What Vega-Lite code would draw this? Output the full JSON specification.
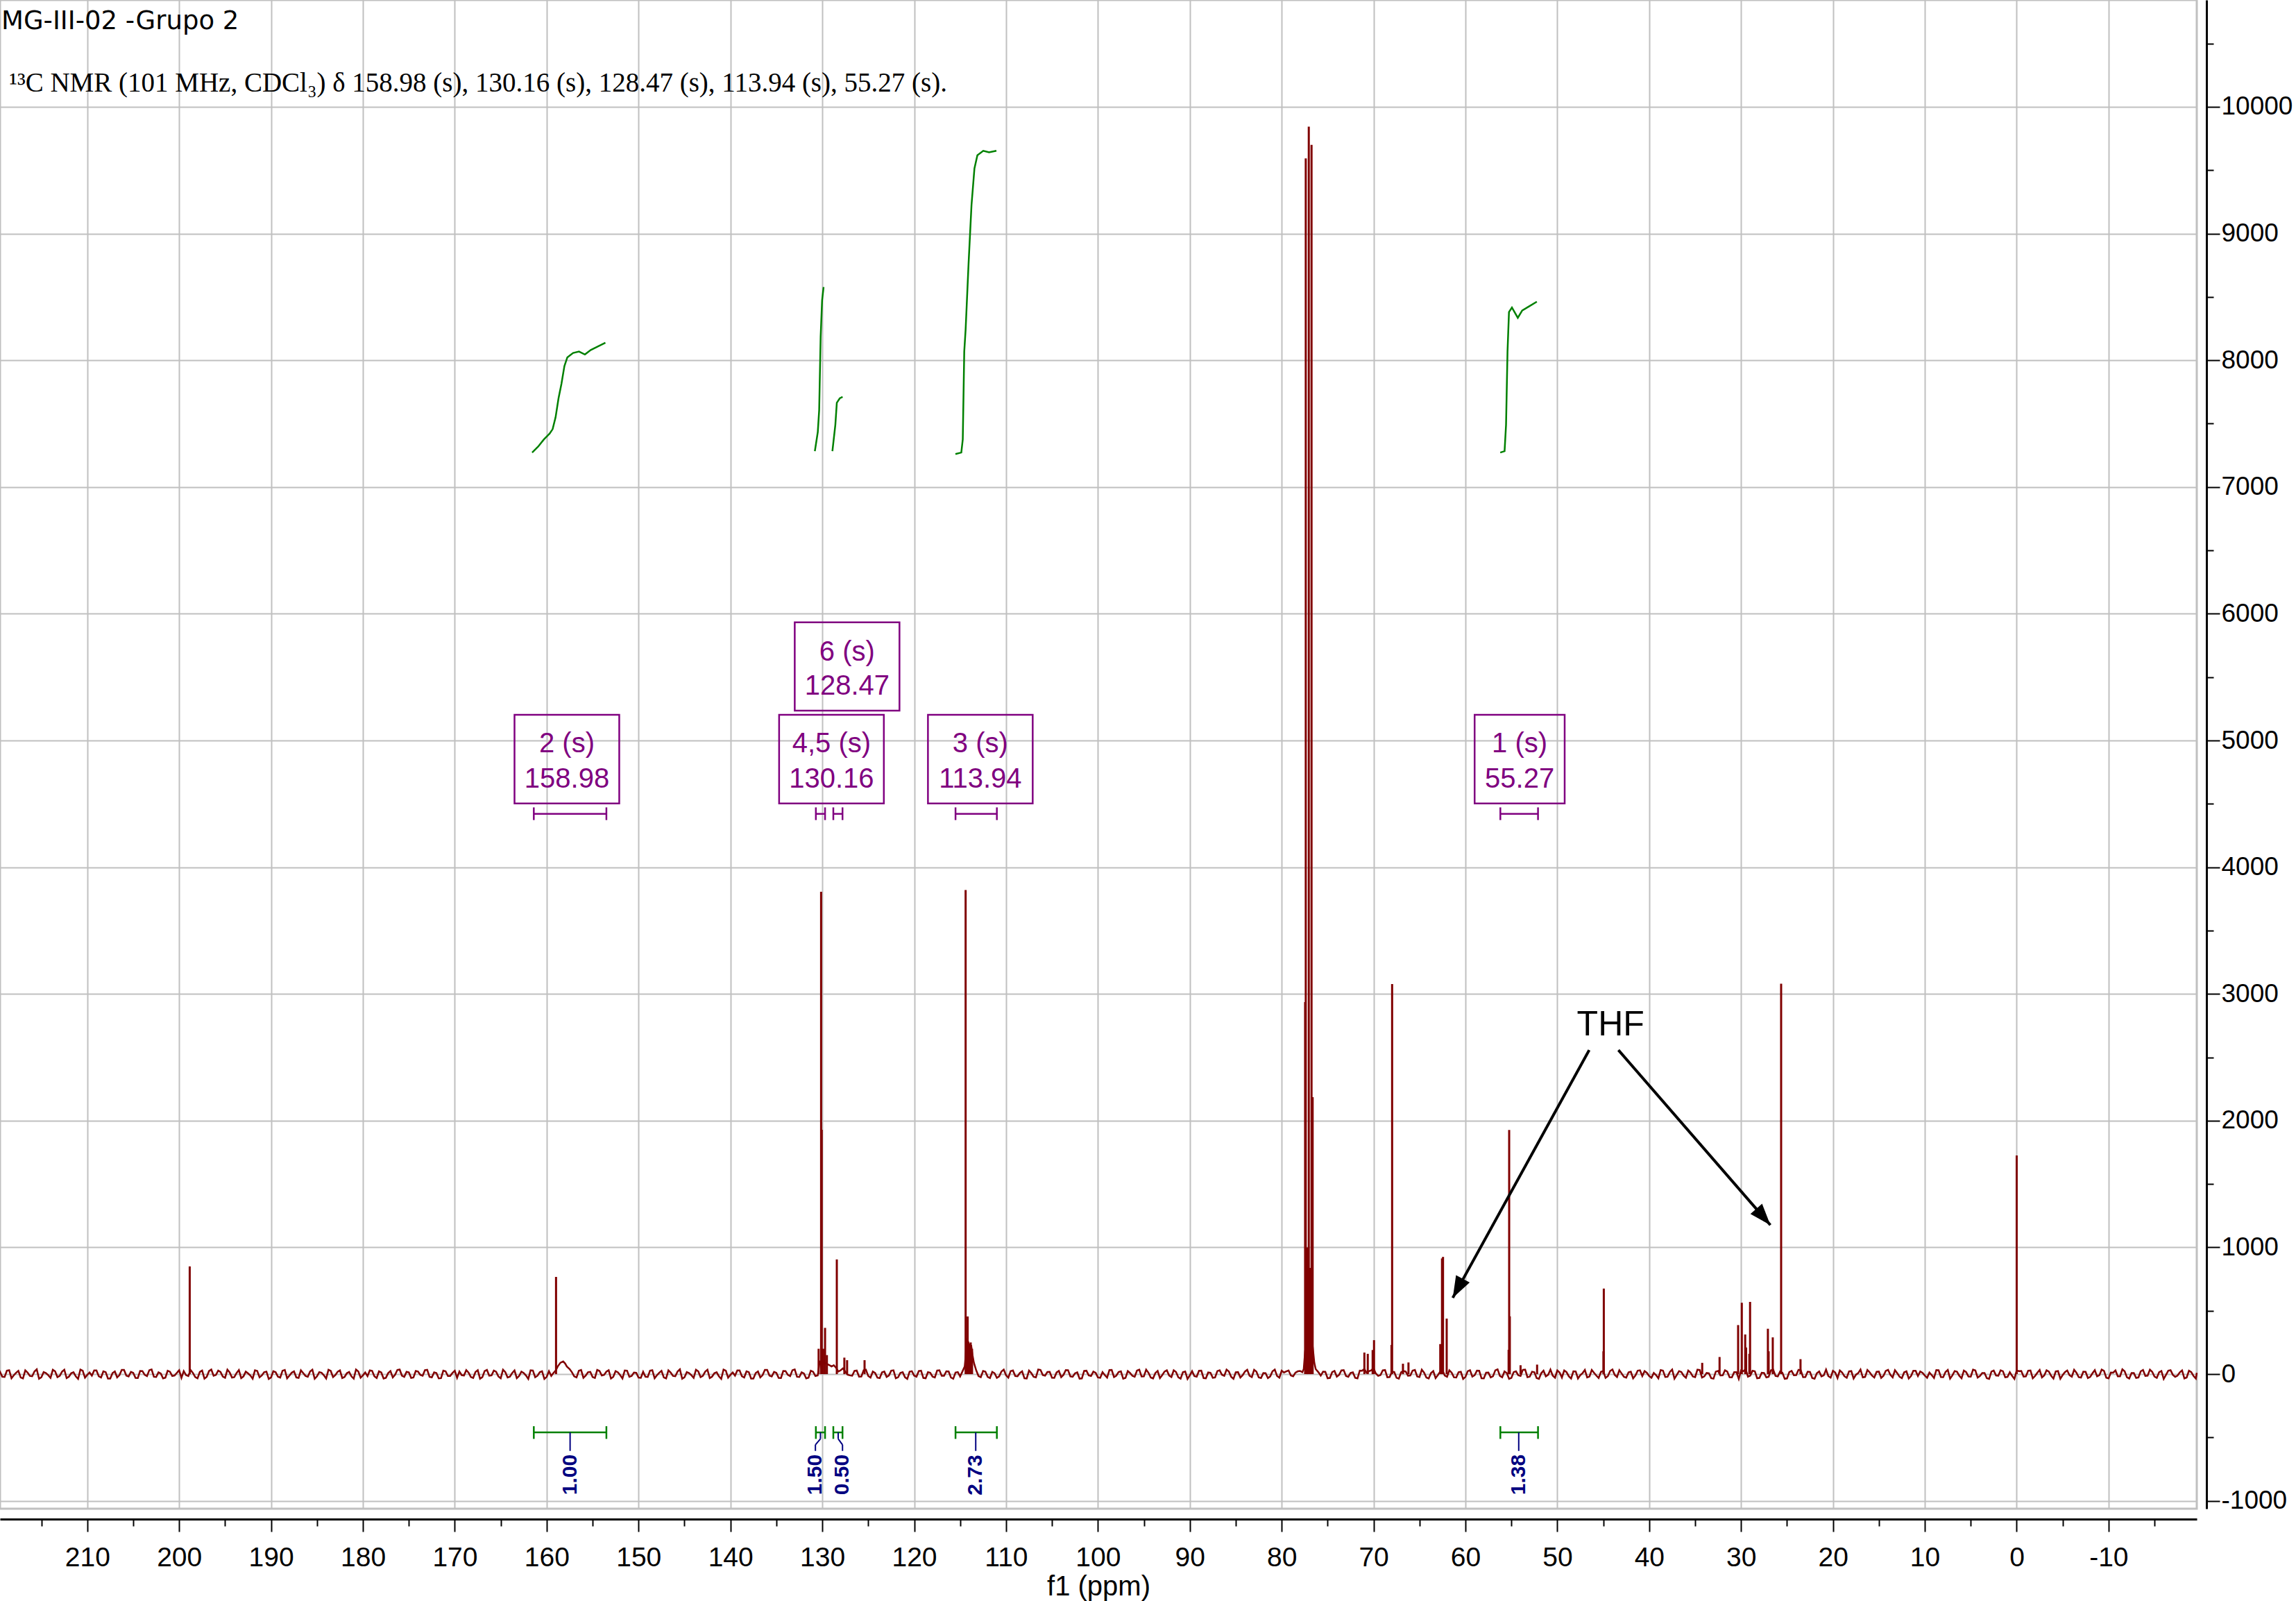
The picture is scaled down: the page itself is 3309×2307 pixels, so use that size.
{
  "$schema": "https://vega.github.io/schema/vega-lite/v6.json",
  "width": 3166,
  "height": 2174,
  "padding": {"left": 0, "top": 0, "right": 143, "bottom": 133},
  "autosize": {"type": "none"},
  "background": "white",
  "config": {"view": {"stroke": "#c0c0c0", "strokeWidth": 3}},
  "encoding": {
    "x": {
      "field": "p", "type": "quantitative",
      "scale": {"domain": [-19.6, 219.5], "reverse": true, "nice": false, "zero": false},
      "axis": {
        "orient": "bottom", "offset": 15,
        "values": [215,210,205,200,195,190,185,180,175,170,165,160,155,150,145,140,135,130,125,120,115,110,105,100,95,90,85,80,75,70,65,60,55,50,45,40,35,30,25,20,15,10,5,0,-5,-10,-15],
        "labelExpr": "datum.value % 10 === 0 ? '' + datum.value : ''",
        "labelFont": "Liberation Sans", "labelFontSize": 39, "labelColor": "black", "labelPadding": 18,
        "labelOverlap": false, "labelFlush": false, "labelBound": false,
        "tickColor": "black", "tickWidth": 2,
        "tickSize": {"condition": {"test": "datum.value % 10 === 0", "value": 18}, "value": 10},
        "domainColor": "black", "domainWidth": 3,
        "grid": true, "gridColor": "#c0c0c0", "gridWidth": 2,
        "gridOpacity": {"condition": {"test": "datum.value % 10 === 0", "value": 1}, "value": 0},
        "title": "f1 (ppm)", "titleFont": "Liberation Sans", "titleFontSize": 40, "titleFontWeight": "normal", "titleColor": "black", "titlePadding": 2
      }
    },
    "y": {
      "field": "i", "type": "quantitative",
      "scale": {"domain": [-1062, 10843], "nice": false, "zero": false},
      "axis": {
        "orient": "right", "offset": 14,
        "values": [-1000,-500,0,500,1000,1500,2000,2500,3000,3500,4000,4500,5000,5500,6000,6500,7000,7500,8000,8500,9000,9500,10000,10500],
        "labelExpr": "datum.value % 1000 === 0 ? '' + datum.value : ''",
        "labelFont": "Liberation Sans", "labelFontSize": 37, "labelColor": "black", "labelPadding": 2,
        "labelAlign": "left", "labelBaseline": "middle",
        "labelOverlap": false, "labelFlush": false, "labelBound": false,
        "tickColor": "black", "tickWidth": 2,
        "tickSize": {"condition": {"test": "datum.value % 1000 === 0", "value": 19}, "value": 10},
        "domainColor": "black", "domainWidth": 3,
        "grid": true, "gridColor": "#c0c0c0", "gridWidth": 2,
        "gridOpacity": {"condition": {"test": "datum.value % 1000 === 0", "value": 1}, "value": 0},
        "title": null
      }
    }
  },
  "layer": [
    {
      "data": {"values": [
        {"p":219.6,"i":10},{"p":219.5,"i":18},{"p":219,"i":-22},{"p":218.5,"i":31},{"p":218,"i":-9},{"p":217.5,"i":26},{"p":217,"i":-34},{"p":216.5,"i":12},{"p":216,"i":-17},{"p":215.5,"i":38},{"p":215,"i":-25},{"p":214.5,"i":8},{"p":214,"i":-30},{"p":213.5,"i":22},{"p":213,"i":-14},{"p":212.5,"i":35},{"p":212,"i":-20},{"p":211.5,"i":15},{"p":211,"i":-38},{"p":210.5,"i":27},{"p":210,"i":-6},
        {"p":209.5,"i":-12},{"p":209,"i":29},{"p":208.5,"i":-27},{"p":208,"i":16},{"p":207.5,"i":-35},{"p":207,"i":21},{"p":206.5,"i":-8},{"p":206,"i":33},{"p":205.5,"i":-19},{"p":205,"i":10},{"p":204.5,"i":-31},{"p":204,"i":24},{"p":203.5,"i":-16},{"p":203,"i":37},{"p":202.5,"i":-23},{"p":202,"i":5},{"p":201.5,"i":-28},{"p":201,"i":19},{"p":200.5,"i":-11},{"p":200,"i":30},
        {"p":199.5,"i":24},{"p":199,"i":-15},{"p":198.5,"i":9},{"p":198,"i":-33},{"p":197.5,"i":28},{"p":197,"i":-21},{"p":196.5,"i":36},{"p":196,"i":-7},{"p":195.5,"i":17},{"p":195,"i":-29},{"p":194.5,"i":13},{"p":194,"i":-24},{"p":193.5,"i":32},{"p":193,"i":-18},{"p":192.5,"i":6},{"p":192,"i":-36},{"p":191.5,"i":25},{"p":191,"i":-10},{"p":190.5,"i":20},{"p":190,"i":-26},
        {"p":189.5,"i":15},{"p":189,"i":-27},{"p":188.5,"i":33},{"p":188,"i":-12},{"p":187.5,"i":22},{"p":187,"i":-30},{"p":186.5,"i":9},{"p":186,"i":-21},{"p":185.5,"i":35},{"p":185,"i":-18},{"p":184.5,"i":11},{"p":184,"i":-34},{"p":183.5,"i":25},{"p":183,"i":-8},{"p":182.5,"i":30},{"p":182,"i":-23},{"p":181.5,"i":17},{"p":181,"i":-36},{"p":180.5,"i":21},{"p":180,"i":-10},
        {"p":179.5,"i":-16},{"p":179,"i":26},{"p":178.5,"i":-31},{"p":178,"i":13},{"p":177.5,"i":-29},{"p":177,"i":24},{"p":176.5,"i":-5},{"p":176,"i":36},{"p":175.5,"i":-22},{"p":175,"i":14},{"p":174.5,"i":-27},{"p":174,"i":20},{"p":173.5,"i":-13},{"p":173,"i":34},{"p":172.5,"i":-26},{"p":172,"i":8},{"p":171.5,"i":-32},{"p":171,"i":22},{"p":170.5,"i":-15},{"p":170,"i":27},
        {"p":169.5,"i":21},{"p":169,"i":-11},{"p":168.5,"i":12},{"p":168,"i":-30},{"p":167.5,"i":31},{"p":167,"i":-24},{"p":166.5,"i":33},{"p":166,"i":-10},{"p":165.5,"i":19},{"p":165,"i":-33},{"p":164.5,"i":16},{"p":164,"i":-20},{"p":163.5,"i":29},{"p":163,"i":-15},{"p":162.5,"i":9},{"p":162,"i":-38},{"p":161.5,"i":28},{"p":161,"i":-13},{"p":160.5,"i":23},{"p":160,"i":-22},
        {"p":159.5,"i":-14},{"p":159,"i":30},{"p":158.8,"i":60},{"p":158.5,"i":90},{"p":158.2,"i":100},{"p":158,"i":85},{"p":157.8,"i":60},{"p":157.5,"i":40},{"p":157,"i":-18},{"p":156.5,"i":26},{"p":156,"i":-29},{"p":155.5,"i":15},{"p":155,"i":-23},{"p":154.5,"i":33},{"p":154,"i":-11},{"p":153.5,"i":20},{"p":153,"i":-35},{"p":152.5,"i":24},{"p":152,"i":-8},{"p":151.5,"i":29},{"p":151,"i":-21},{"p":150.5,"i":12},{"p":150,"i":-27},
        {"p":149.5,"i":18},{"p":149,"i":-22},{"p":148.5,"i":31},{"p":148,"i":-9},{"p":147.5,"i":26},{"p":147,"i":-34},{"p":146.5,"i":12},{"p":146,"i":-17},{"p":145.5,"i":38},{"p":145,"i":-25},{"p":144.5,"i":8},{"p":144,"i":-30},{"p":143.5,"i":22},{"p":143,"i":-14},{"p":142.5,"i":35},{"p":142,"i":-20},{"p":141.5,"i":15},{"p":141,"i":-38},{"p":140.5,"i":27},{"p":140,"i":-6},
        {"p":139.5,"i":-12},{"p":139,"i":29},{"p":138.5,"i":-27},{"p":138,"i":16},{"p":137.5,"i":-35},{"p":137,"i":21},{"p":136.5,"i":-8},{"p":136,"i":33},{"p":135.5,"i":-19},{"p":135,"i":10},{"p":134.5,"i":-31},{"p":134,"i":24},{"p":133.5,"i":-16},{"p":133,"i":37},{"p":132.5,"i":-23},{"p":132,"i":5},{"p":131.5,"i":-28},{"p":131,"i":19},{"p":130.5,"i":-11},{"p":130.3,"i":90},{"p":130.05,"i":120},{"p":130,"i":60},
        {"p":129.8,"i":100},{"p":129.5,"i":80},{"p":129.2,"i":70},{"p":129,"i":60},{"p":128.5,"i":50},{"p":128,"i":30},{"p":127.5,"i":20},{"p":127,"i":-10},{"p":126.5,"i":25},{"p":126,"i":-20},{"p":125.5,"i":30},{"p":125,"i":-15},{"p":124.5,"i":20},{"p":124,"i":-28},{"p":123.5,"i":14},{"p":123,"i":-22},{"p":122.5,"i":27},{"p":122,"i":-33},{"p":121.5,"i":10},{"p":121,"i":-25},{"p":120.5,"i":19},{"p":120,"i":-12},
        {"p":119.5,"i":24},{"p":119,"i":-30},{"p":118.5,"i":15},{"p":118,"i":-20},{"p":117.5,"i":28},{"p":117,"i":-14},{"p":116.5,"i":22},{"p":116,"i":-27},{"p":115.5,"i":12},{"p":115,"i":-18},{"p":114.5,"i":60},{"p":114.45,"i":100},{"p":114.25,"i":280},{"p":114.1,"i":250},{"p":113.95,"i":200},{"p":113.8,"i":230},{"p":113.65,"i":150},{"p":113.5,"i":90},{"p":113,"i":-15},{"p":112.5,"i":25},{"p":112,"i":-22},{"p":111.5,"i":18},{"p":111,"i":-30},{"p":110.5,"i":21},{"p":110,"i":-9},
        {"p":109.5,"i":24},{"p":109,"i":-15},{"p":108.5,"i":9},{"p":108,"i":-33},{"p":107.5,"i":28},{"p":107,"i":-21},{"p":106.5,"i":36},{"p":106,"i":-7},{"p":105.5,"i":17},{"p":105,"i":-29},{"p":104.5,"i":13},{"p":104,"i":-24},{"p":103.5,"i":32},{"p":103,"i":-18},{"p":102.5,"i":6},{"p":102,"i":-36},{"p":101.5,"i":25},{"p":101,"i":-10},{"p":100.5,"i":20},{"p":100,"i":-26},
        {"p":99.5,"i":15},{"p":99,"i":-27},{"p":98.5,"i":33},{"p":98,"i":-12},{"p":97.5,"i":22},{"p":97,"i":-30},{"p":96.5,"i":9},{"p":96,"i":-21},{"p":95.5,"i":35},{"p":95,"i":-18},{"p":94.5,"i":11},{"p":94,"i":-34},{"p":93.5,"i":25},{"p":93,"i":-8},{"p":92.5,"i":30},{"p":92,"i":-23},{"p":91.5,"i":17},{"p":91,"i":-36},{"p":90.5,"i":21},{"p":90,"i":-10},
        {"p":89.5,"i":-16},{"p":89,"i":26},{"p":88.5,"i":-31},{"p":88,"i":13},{"p":87.5,"i":-29},{"p":87,"i":24},{"p":86.5,"i":-5},{"p":86,"i":36},{"p":85.5,"i":-22},{"p":85,"i":14},{"p":84.5,"i":-27},{"p":84,"i":20},{"p":83.5,"i":-13},{"p":83,"i":34},{"p":82.5,"i":-26},{"p":82,"i":8},{"p":81.5,"i":-32},{"p":81,"i":22},{"p":80.5,"i":-15},{"p":80,"i":27},
        {"p":79.5,"i":21},{"p":79,"i":-11},{"p":78.5,"i":12},{"p":78,"i":25},{"p":77.6,"i":40},{"p":77.45,"i":180},{"p":77.3,"i":250},{"p":77.1,"i":350},{"p":76.9,"i":330},{"p":76.75,"i":300},{"p":76.6,"i":200},{"p":76.45,"i":90},{"p":76.3,"i":40},{"p":76,"i":15},{"p":75.5,"i":19},{"p":75,"i":-33},{"p":74.5,"i":16},{"p":74,"i":-20},{"p":73.5,"i":29},{"p":73,"i":-15},{"p":72.5,"i":9},{"p":72,"i":-30},{"p":71.5,"i":28},{"p":71,"i":40},{"p":70.5,"i":23},{"p":70,"i":45},
        {"p":69.5,"i":-14},{"p":69,"i":30},{"p":68.5,"i":-25},{"p":68,"i":18},{"p":67.5,"i":-29},{"p":67,"i":15},{"p":66.5,"i":20},{"p":66,"i":-11},{"p":65.5,"i":33},{"p":65,"i":-23},{"p":64.5,"i":12},{"p":64,"i":-35},{"p":63.5,"i":24},{"p":63,"i":-8},{"p":62.5,"i":29},{"p":62,"i":-21},{"p":61.5,"i":12},{"p":61,"i":-27},{"p":60.5,"i":18},{"p":60,"i":-22},
        {"p":59.5,"i":31},{"p":59,"i":-9},{"p":58.5,"i":26},{"p":58,"i":-34},{"p":57.5,"i":12},{"p":57,"i":-17},{"p":56.5,"i":38},{"p":56,"i":-25},{"p":55.5,"i":8},{"p":55,"i":-30},{"p":54.5,"i":22},{"p":54,"i":-14},{"p":53.5,"i":35},{"p":53,"i":-20},{"p":52.5,"i":15},{"p":52,"i":-38},{"p":51.5,"i":27},{"p":51,"i":-6},{"p":50.5,"i":-12},{"p":50,"i":29},
        {"p":49.5,"i":-27},{"p":49,"i":16},{"p":48.5,"i":-35},{"p":48,"i":21},{"p":47.5,"i":-8},{"p":47,"i":33},{"p":46.5,"i":-19},{"p":46,"i":10},{"p":45.5,"i":-31},{"p":45,"i":24},{"p":44.5,"i":-16},{"p":44,"i":37},{"p":43.5,"i":-23},{"p":43,"i":5},{"p":42.5,"i":-28},{"p":42,"i":19},{"p":41.5,"i":-11},{"p":41,"i":30},{"p":40.5,"i":24},{"p":40,"i":-15},
        {"p":39.5,"i":9},{"p":39,"i":-33},{"p":38.5,"i":28},{"p":38,"i":-21},{"p":37.5,"i":36},{"p":37,"i":-7},{"p":36.5,"i":17},{"p":36,"i":-29},{"p":35.5,"i":13},{"p":35,"i":-24},{"p":34.5,"i":32},{"p":34,"i":-18},{"p":33.5,"i":6},{"p":33,"i":-36},{"p":32.5,"i":25},{"p":32,"i":-10},{"p":31.5,"i":20},{"p":31,"i":-26},{"p":30.5,"i":15},{"p":30,"i":30},
        {"p":29.5,"i":40},{"p":29,"i":-12},{"p":28.5,"i":22},{"p":28,"i":-30},{"p":27.5,"i":9},{"p":27,"i":-21},{"p":26.5,"i":35},{"p":26,"i":-18},{"p":25.5,"i":11},{"p":25,"i":-34},{"p":24.5,"i":25},{"p":24,"i":-8},{"p":23.5,"i":30},{"p":23,"i":-23},{"p":22.5,"i":17},{"p":22,"i":-36},{"p":21.5,"i":21},{"p":21,"i":-10},{"p":20.5,"i":-16},{"p":20,"i":26},
        {"p":19.5,"i":-31},{"p":19,"i":13},{"p":18.5,"i":-29},{"p":18,"i":24},{"p":17.5,"i":-5},{"p":17,"i":36},{"p":16.5,"i":-22},{"p":16,"i":14},{"p":15.5,"i":-27},{"p":15,"i":20},{"p":14.5,"i":-13},{"p":14,"i":34},{"p":13.5,"i":-26},{"p":13,"i":8},{"p":12.5,"i":-32},{"p":12,"i":22},{"p":11.5,"i":-15},{"p":11,"i":27},{"p":10.5,"i":21},{"p":10,"i":-11},
        {"p":9.5,"i":12},{"p":9,"i":-30},{"p":8.5,"i":31},{"p":8,"i":-24},{"p":7.5,"i":33},{"p":7,"i":-10},{"p":6.5,"i":19},{"p":6,"i":-33},{"p":5.5,"i":16},{"p":5,"i":-20},{"p":4.5,"i":29},{"p":4,"i":-15},{"p":3.5,"i":9},{"p":3,"i":-38},{"p":2.5,"i":28},{"p":2,"i":-13},{"p":1.5,"i":23},{"p":1,"i":-22},{"p":0.5,"i":-14},{"p":0,"i":30},
        {"p":-0.5,"i":25},{"p":-1,"i":-18},{"p":-1.5,"i":29},{"p":-2,"i":-15},{"p":-2.5,"i":33},{"p":-3,"i":-11},{"p":-3.5,"i":20},{"p":-4,"i":-35},{"p":-4.5,"i":24},{"p":-5,"i":-8},{"p":-5.5,"i":29},{"p":-6,"i":-21},{"p":-6.5,"i":12},{"p":-7,"i":-27},{"p":-7.5,"i":18},{"p":-8,"i":-22},{"p":-8.5,"i":31},{"p":-9,"i":-9},{"p":-9.5,"i":26},{"p":-10,"i":-34},
        {"p":-10.5,"i":12},{"p":-11,"i":-17},{"p":-11.5,"i":38},{"p":-12,"i":-25},{"p":-12.5,"i":8},{"p":-13,"i":-30},{"p":-13.5,"i":22},{"p":-14,"i":-14},{"p":-14.5,"i":35},{"p":-15,"i":-20},{"p":-15.5,"i":15},{"p":-16,"i":-38},{"p":-16.5,"i":27},{"p":-17,"i":-6},{"p":-17.5,"i":-12},{"p":-18,"i":29},{"p":-18.5,"i":-27},{"p":-19,"i":16},{"p":-19.5,"i":-35},{"p":-19.6,"i":10},
        {"p":219.25,"i":-20},{"p":218.75,"i":27},{"p":218.25,"i":-33},{"p":217.75,"i":11},{"p":217.25,"i":-26},{"p":216.75,"i":30},{"p":216.25,"i":-14},{"p":215.75,"i":21},{"p":215.25,"i":-37},{"p":214.75,"i":16},{"p":214.25,"i":-9},{"p":213.75,"i":34},{"p":213.25,"i":-24},{"p":212.75,"i":19},{"p":212.25,"i":-31},{"p":211.75,"i":7},{"p":211.25,"i":-18},{"p":210.75,"i":36},{"p":210.25,"i":-28},{"p":209.75,"i":13},
        {"p":209.25,"i":29},{"p":208.75,"i":-17},{"p":208.25,"i":22},{"p":207.75,"i":-35},{"p":207.25,"i":8},{"p":206.75,"i":-26},{"p":206.25,"i":33},{"p":205.75,"i":-12},{"p":205.25,"i":18},{"p":204.75,"i":-30},{"p":204.25,"i":25},{"p":203.75,"i":-6},{"p":203.25,"i":31},{"p":202.75,"i":-21},{"p":202.25,"i":14},{"p":201.75,"i":-34},{"p":201.25,"i":27},{"p":200.75,"i":-15},{"p":200.25,"i":10},{"p":199.75,"i":-29},
        {"p":199.25,"i":-8},{"p":198.75,"i":32},{"p":198.25,"i":-23},{"p":197.75,"i":17},{"p":197.25,"i":-36},{"p":196.75,"i":24},{"p":196.25,"i":-13},{"p":195.75,"i":28},{"p":195.25,"i":-19},{"p":194.75,"i":35},{"p":194.25,"i":-27},{"p":193.75,"i":9},{"p":193.25,"i":-32},{"p":192.75,"i":20},{"p":192.25,"i":-11},{"p":191.75,"i":30},{"p":191.25,"i":-25},{"p":190.75,"i":15},{"p":190.25,"i":-38},{"p":189.75,"i":23},
        {"p":189.25,"i":-20},{"p":188.75,"i":27},{"p":188.25,"i":-33},{"p":187.75,"i":11},{"p":187.25,"i":-26},{"p":186.75,"i":30},{"p":186.25,"i":-14},{"p":185.75,"i":21},{"p":185.25,"i":-37},{"p":184.75,"i":16},{"p":184.25,"i":-9},{"p":183.75,"i":34},{"p":183.25,"i":-24},{"p":182.75,"i":19},{"p":182.25,"i":-31},{"p":181.75,"i":7},{"p":181.25,"i":-18},{"p":180.75,"i":36},{"p":180.25,"i":-28},{"p":179.75,"i":13},
        {"p":179.25,"i":29},{"p":178.75,"i":-17},{"p":178.25,"i":22},{"p":177.75,"i":-35},{"p":177.25,"i":8},{"p":176.75,"i":-26},{"p":176.25,"i":33},{"p":175.75,"i":-12},{"p":175.25,"i":18},{"p":174.75,"i":-30},{"p":174.25,"i":25},{"p":173.75,"i":-6},{"p":173.25,"i":31},{"p":172.75,"i":-21},{"p":172.25,"i":14},{"p":171.75,"i":-34},{"p":171.25,"i":27},{"p":170.75,"i":-15},{"p":170.25,"i":10},{"p":169.75,"i":-29},
        {"p":169.25,"i":-8},{"p":168.75,"i":32},{"p":168.25,"i":-23},{"p":167.75,"i":17},{"p":167.25,"i":-36},{"p":166.75,"i":24},{"p":166.25,"i":-13},{"p":165.75,"i":28},{"p":165.25,"i":-19},{"p":164.75,"i":35},{"p":164.25,"i":-27},{"p":163.75,"i":9},{"p":163.25,"i":-32},{"p":162.75,"i":20},{"p":162.25,"i":-11},{"p":161.75,"i":30},{"p":161.25,"i":-25},{"p":160.75,"i":15},{"p":160.25,"i":-38},{"p":159.75,"i":23},
        {"p":159.25,"i":10},{"p":157.25,"i":15},{"p":156.75,"i":-26},{"p":156.25,"i":33},{"p":155.75,"i":-12},{"p":155.25,"i":18},{"p":154.75,"i":-30},{"p":154.25,"i":25},{"p":153.75,"i":-6},{"p":153.25,"i":31},{"p":152.75,"i":-21},{"p":152.25,"i":14},{"p":151.75,"i":-34},{"p":151.25,"i":27},{"p":150.75,"i":-15},{"p":150.25,"i":10},{"p":149.75,"i":-29},
        {"p":149.25,"i":-20},{"p":148.75,"i":27},{"p":148.25,"i":-33},{"p":147.75,"i":11},{"p":147.25,"i":-26},{"p":146.75,"i":30},{"p":146.25,"i":-14},{"p":145.75,"i":21},{"p":145.25,"i":-37},{"p":144.75,"i":16},{"p":144.25,"i":-9},{"p":143.75,"i":34},{"p":143.25,"i":-24},{"p":142.75,"i":19},{"p":142.25,"i":-31},{"p":141.75,"i":7},{"p":141.25,"i":-18},{"p":140.75,"i":36},{"p":140.25,"i":-28},{"p":139.75,"i":13},
        {"p":139.25,"i":29},{"p":138.75,"i":-17},{"p":138.25,"i":22},{"p":137.75,"i":-35},{"p":137.25,"i":8},{"p":136.75,"i":-26},{"p":136.25,"i":33},{"p":135.75,"i":-12},{"p":135.25,"i":18},{"p":134.75,"i":-30},{"p":134.25,"i":25},{"p":133.75,"i":-6},{"p":133.25,"i":31},{"p":132.75,"i":-21},{"p":132.25,"i":14},{"p":131.75,"i":-34},{"p":131.25,"i":27},{"p":130.75,"i":-15},
        {"p":128.75,"i":70},{"p":128.25,"i":20},{"p":127.75,"i":45},{"p":127.25,"i":-5},{"p":126.75,"i":-13},{"p":126.25,"i":28},{"p":125.75,"i":-19},{"p":125.25,"i":35},{"p":124.75,"i":-27},{"p":124.25,"i":9},{"p":123.75,"i":-32},{"p":123.25,"i":20},{"p":122.75,"i":-11},{"p":122.25,"i":30},{"p":121.75,"i":-25},{"p":121.25,"i":15},{"p":120.75,"i":-38},{"p":120.25,"i":23},{"p":119.75,"i":-20},
        {"p":119.25,"i":27},{"p":118.75,"i":-33},{"p":118.25,"i":11},{"p":117.75,"i":-26},{"p":117.25,"i":30},{"p":116.75,"i":-14},{"p":116.25,"i":21},{"p":115.75,"i":-37},{"p":115.25,"i":16},{"p":114.75,"i":20},{"p":113.25,"i":30},{"p":112.75,"i":-24},{"p":112.25,"i":19},{"p":111.75,"i":-31},{"p":111.25,"i":7},{"p":110.75,"i":-18},{"p":110.25,"i":36},{"p":109.75,"i":-28},
        {"p":109.25,"i":29},{"p":108.75,"i":-17},{"p":108.25,"i":22},{"p":107.75,"i":-35},{"p":107.25,"i":8},{"p":106.75,"i":-26},{"p":106.25,"i":33},{"p":105.75,"i":-12},{"p":105.25,"i":18},{"p":104.75,"i":-30},{"p":104.25,"i":25},{"p":103.75,"i":-6},{"p":103.25,"i":31},{"p":102.75,"i":-21},{"p":102.25,"i":14},{"p":101.75,"i":-34},{"p":101.25,"i":27},{"p":100.75,"i":-15},{"p":100.25,"i":10},{"p":99.75,"i":-29},
        {"p":99.25,"i":-8},{"p":98.75,"i":32},{"p":98.25,"i":-23},{"p":97.75,"i":17},{"p":97.25,"i":-36},{"p":96.75,"i":24},{"p":96.25,"i":-13},{"p":95.75,"i":28},{"p":95.25,"i":-19},{"p":94.75,"i":35},{"p":94.25,"i":-27},{"p":93.75,"i":9},{"p":93.25,"i":-32},{"p":92.75,"i":20},{"p":92.25,"i":-11},{"p":91.75,"i":30},{"p":91.25,"i":-25},{"p":90.75,"i":15},{"p":90.25,"i":-38},{"p":89.75,"i":23},
        {"p":89.25,"i":-20},{"p":88.75,"i":27},{"p":88.25,"i":-33},{"p":87.75,"i":11},{"p":87.25,"i":-26},{"p":86.75,"i":30},{"p":86.25,"i":-14},{"p":85.75,"i":21},{"p":85.25,"i":-37},{"p":84.75,"i":16},{"p":84.25,"i":-9},{"p":83.75,"i":34},{"p":83.25,"i":-24},{"p":82.75,"i":19},{"p":82.25,"i":-31},{"p":81.75,"i":7},{"p":81.25,"i":-18},{"p":80.75,"i":36},{"p":80.25,"i":-28},{"p":79.75,"i":13},
        {"p":79.25,"i":29},{"p":78.75,"i":-17},{"p":78.25,"i":22},{"p":77.75,"i":15},{"p":75.75,"i":-12},{"p":75.25,"i":18},{"p":74.75,"i":-30},{"p":74.25,"i":25},{"p":73.75,"i":-6},{"p":73.25,"i":31},{"p":72.75,"i":-21},{"p":72.25,"i":14},{"p":71.75,"i":-34},{"p":71.25,"i":27},{"p":70.75,"i":10},{"p":70.25,"i":30},{"p":69.75,"i":5},
        {"p":69.25,"i":-8},{"p":68.75,"i":32},{"p":68.25,"i":-23},{"p":67.75,"i":17},{"p":67.25,"i":-36},{"p":66.75,"i":24},{"p":66.25,"i":-13},{"p":65.75,"i":28},{"p":65.25,"i":-19},{"p":64.75,"i":35},{"p":64.25,"i":-27},{"p":63.75,"i":9},{"p":63.25,"i":-32},{"p":62.75,"i":20},{"p":62.25,"i":-11},{"p":61.75,"i":30},{"p":61.25,"i":-25},{"p":60.75,"i":15},{"p":60.25,"i":-38},{"p":59.75,"i":23},
        {"p":59.25,"i":-20},{"p":58.75,"i":27},{"p":58.25,"i":-33},{"p":57.75,"i":11},{"p":57.25,"i":-26},{"p":56.75,"i":30},{"p":56.25,"i":-14},{"p":55.75,"i":21},{"p":55.25,"i":-37},{"p":54.75,"i":16},{"p":54.25,"i":-9},{"p":53.75,"i":34},{"p":53.25,"i":-24},{"p":52.75,"i":19},{"p":52.25,"i":-31},{"p":51.75,"i":7},{"p":51.25,"i":-18},{"p":50.75,"i":36},{"p":50.25,"i":-28},{"p":49.75,"i":13},
        {"p":49.25,"i":29},{"p":48.75,"i":-17},{"p":48.25,"i":22},{"p":47.75,"i":-35},{"p":47.25,"i":8},{"p":46.75,"i":-26},{"p":46.25,"i":33},{"p":45.75,"i":-12},{"p":45.25,"i":18},{"p":44.75,"i":-30},{"p":44.25,"i":25},{"p":43.75,"i":-6},{"p":43.25,"i":31},{"p":42.75,"i":-21},{"p":42.25,"i":14},{"p":41.75,"i":-34},{"p":41.25,"i":27},{"p":40.75,"i":-15},{"p":40.25,"i":10},{"p":39.75,"i":-29},
        {"p":39.25,"i":-8},{"p":38.75,"i":32},{"p":38.25,"i":-23},{"p":37.75,"i":17},{"p":37.25,"i":-36},{"p":36.75,"i":24},{"p":36.25,"i":-13},{"p":35.75,"i":28},{"p":35.25,"i":-19},{"p":34.75,"i":35},{"p":34.25,"i":-27},{"p":33.75,"i":9},{"p":33.25,"i":-32},{"p":32.75,"i":20},{"p":32.25,"i":-11},{"p":31.75,"i":30},{"p":31.25,"i":-25},{"p":30.75,"i":15},{"p":30.25,"i":-38},{"p":29.75,"i":23},
        {"p":29.25,"i":-20},{"p":28.75,"i":27},{"p":28.25,"i":-33},{"p":27.75,"i":11},{"p":27.25,"i":-26},{"p":26.75,"i":30},{"p":26.25,"i":-14},{"p":25.75,"i":21},{"p":25.25,"i":-37},{"p":24.75,"i":16},{"p":24.25,"i":-9},{"p":23.75,"i":34},{"p":23.25,"i":-24},{"p":22.75,"i":19},{"p":22.25,"i":-31},{"p":21.75,"i":7},{"p":21.25,"i":-18},{"p":20.75,"i":36},{"p":20.25,"i":-28},{"p":19.75,"i":13},
        {"p":19.25,"i":29},{"p":18.75,"i":-17},{"p":18.25,"i":22},{"p":17.75,"i":-35},{"p":17.25,"i":8},{"p":16.75,"i":-26},{"p":16.25,"i":33},{"p":15.75,"i":-12},{"p":15.25,"i":18},{"p":14.75,"i":-30},{"p":14.25,"i":25},{"p":13.75,"i":-6},{"p":13.25,"i":31},{"p":12.75,"i":-21},{"p":12.25,"i":14},{"p":11.75,"i":-34},{"p":11.25,"i":27},{"p":10.75,"i":-15},{"p":10.25,"i":10},{"p":9.75,"i":-29},
        {"p":9.25,"i":-8},{"p":8.75,"i":32},{"p":8.25,"i":-23},{"p":7.75,"i":17},{"p":7.25,"i":-36},{"p":6.75,"i":24},{"p":6.25,"i":-13},{"p":5.75,"i":28},{"p":5.25,"i":-19},{"p":4.75,"i":35},{"p":4.25,"i":-27},{"p":3.75,"i":9},{"p":3.25,"i":-32},{"p":2.75,"i":20},{"p":2.25,"i":-11},{"p":1.75,"i":30},{"p":1.25,"i":-25},{"p":0.75,"i":15},{"p":0.25,"i":-38},{"p":-0.25,"i":23},
        {"p":-0.75,"i":-20},{"p":-1.25,"i":27},{"p":-1.75,"i":-33},{"p":-2.25,"i":11},{"p":-2.75,"i":-26},{"p":-3.25,"i":30},{"p":-3.75,"i":-14},{"p":-4.25,"i":21},{"p":-4.75,"i":-37},{"p":-5.25,"i":16},{"p":-5.75,"i":-9},{"p":-6.25,"i":34},{"p":-6.75,"i":-24},{"p":-7.25,"i":19},{"p":-7.75,"i":-31},{"p":-8.25,"i":7},{"p":-8.75,"i":-18},{"p":-9.25,"i":36},{"p":-9.75,"i":-28},{"p":-10.25,"i":13},
        {"p":-10.75,"i":29},{"p":-11.25,"i":-17},{"p":-11.75,"i":22},{"p":-12.25,"i":-35},{"p":-12.75,"i":8},{"p":-13.25,"i":-26},{"p":-13.75,"i":33},{"p":-14.25,"i":-12},{"p":-14.75,"i":18},{"p":-15.25,"i":-30},{"p":-15.75,"i":25},{"p":-16.25,"i":-6},{"p":-16.75,"i":31},{"p":-17.25,"i":-21},{"p":-17.75,"i":14},{"p":-18.25,"i":-34},{"p":-18.75,"i":27},{"p":-19.25,"i":-15}
      ]},
      "mark": {"type": "line", "color": "#800000", "strokeWidth": 2.5}
    },
    {
      "data": {"values": [
        {"p":198.85,"i":850},{"p":158.98,"i":767},{"p":130.4,"i":200},{"p":130.13,"i":3806},{"p":130.06,"i":1928},{"p":129.9,"i":200},{"p":129.7,"i":365},{"p":129.5,"i":150},{"p":128.42,"i":905},{"p":127.6,"i":130},{"p":127.3,"i":110},{"p":125.4,"i":110},
        {"p":114.4,"i":3820},{"p":114.32,"i":280},{"p":114.18,"i":455},{"p":114.0,"i":240},{"p":113.85,"i":250},{"p":113.7,"i":200},
        {"p":77.45,"i":2935},{"p":77.38,"i":9593},{"p":77.18,"i":1000},{"p":77.05,"i":9843},{"p":76.9,"i":838},{"p":76.75,"i":9700},{"p":76.63,"i":2185},
        {"p":71.0,"i":170},{"p":70.63,"i":160},{"p":70.1,"i":190},{"p":69.95,"i":268},{"p":68.05,"i":230},{"p":67.98,"i":3078},{"p":66.8,"i":82},{"p":66.2,"i":92},
        {"p":62.74,"i":237},{"p":62.55,"i":913},{"p":62.44,"i":925},{"p":62.04,"i":438},{"p":55.3,"i":192},{"p":55.24,"i":1926},{"p":55.17,"i":456},{"p":54.0,"i":70},{"p":52.2,"i":75},
        {"p":44.98,"i":180},{"p":44.94,"i":675},{"p":34.23,"i":89},{"p":32.34,"i":135},{"p":30.32,"i":387},{"p":29.92,"i":563},{"p":29.55,"i":313},{"p":29.45,"i":210},{"p":29.1,"i":160},{"p":29.02,"i":570},
        {"p":27.08,"i":358},{"p":27.0,"i":180},{"p":26.55,"i":290},{"p":25.64,"i":3081},{"p":23.53,"i":118},{"p":0.0,"i":1725}
      ]},
      "mark": {"type": "rule", "color": "#800000", "strokeWidth": 3},
      "encoding": {"y2": {"datum": 0}}
    },
    {
      "data": {"values": [
        {"g":"a","p":161.58,"i":7272},{"g":"a","p":160.94,"i":7318},{"g":"a","p":160.3,"i":7376},{"g":"a","p":159.67,"i":7422},{"g":"a","p":159.35,"i":7457},{"g":"a","p":159.03,"i":7550},{"g":"a","p":158.71,"i":7700},{"g":"a","p":158.39,"i":7815},{"g":"a","p":158.07,"i":7954},{"g":"a","p":157.75,"i":8023},{"g":"a","p":157.12,"i":8058},{"g":"a","p":156.48,"i":8069},{"g":"a","p":155.84,"i":8046},{"g":"a","p":155.2,"i":8081},{"g":"a","p":154.56,"i":8104},{"g":"a","p":153.61,"i":8139},
        {"g":"b","p":130.81,"i":7283},{"g":"b","p":130.49,"i":7434},{"g":"b","p":130.34,"i":7607},{"g":"b","p":130.18,"i":8185},{"g":"b","p":130.02,"i":8474},{"g":"b","p":129.86,"i":8578},
        {"g":"c","p":128.9,"i":7283},{"g":"c","p":128.58,"i":7491},{"g":"c","p":128.42,"i":7665},{"g":"c","p":128.1,"i":7700},{"g":"c","p":127.79,"i":7711},
        {"g":"d","p":115.51,"i":7260},{"g":"d","p":114.87,"i":7272},{"g":"d","p":114.71,"i":7376},{"g":"d","p":114.55,"i":8069},{"g":"d","p":114.4,"i":8243},{"g":"d","p":114.08,"i":8763},{"g":"d","p":113.76,"i":9225},{"g":"d","p":113.44,"i":9514},{"g":"d","p":113.12,"i":9618},{"g":"d","p":112.48,"i":9653},{"g":"d","p":111.85,"i":9641},{"g":"d","p":111.05,"i":9653},
        {"g":"e","p":56.21,"i":7272},{"g":"e","p":55.74,"i":7283},{"g":"e","p":55.58,"i":7491},{"g":"e","p":55.42,"i":8069},{"g":"e","p":55.26,"i":8381},{"g":"e","p":54.94,"i":8416},{"g":"e","p":54.3,"i":8335},{"g":"e","p":53.82,"i":8393},{"g":"e","p":53.03,"i":8427},{"g":"e","p":52.23,"i":8462}
      ]},
      "mark": {"type": "line", "color": "#008000", "strokeWidth": 2.5},
      "encoding": {"detail": {"field": "g"}}
    },
    {
      "data": {"values": [
        {"p":161.4,"i":-460,"p2":153.5,"i2":-460},{"p":161.4,"i":-411,"p2":161.4,"i2":-511},{"p":153.5,"i":-411,"p2":153.5,"i2":-511},
        {"p":130.7,"i":-460,"p2":129.7,"i2":-460},{"p":130.7,"i":-411,"p2":130.7,"i2":-511},{"p":129.7,"i":-411,"p2":129.7,"i2":-511},
        {"p":128.8,"i":-460,"p2":127.8,"i2":-460},{"p":128.8,"i":-411,"p2":128.8,"i2":-511},{"p":127.8,"i":-411,"p2":127.8,"i2":-511},
        {"p":115.5,"i":-460,"p2":111.0,"i2":-460},{"p":115.5,"i":-411,"p2":115.5,"i2":-511},{"p":111.0,"i":-411,"p2":111.0,"i2":-511},
        {"p":56.2,"i":-460,"p2":52.1,"i2":-460},{"p":56.2,"i":-411,"p2":56.2,"i2":-511},{"p":52.1,"i":-411,"p2":52.1,"i2":-511}
      ]},
      "mark": {"type": "rule", "color": "#008000", "strokeWidth": 2.5},
      "encoding": {"x2": {"field": "p2"}, "y2": {"field": "i2"}}
    },
    {
      "data": {"values": [
        {"p":157.45,"i":-460,"p2":157.45,"i2":-606},
        {"p":130.2,"i":-460,"p2":130.2,"i2":-511},{"p":130.2,"i":-511,"p2":130.75,"i2":-557},{"p":130.75,"i":-557,"p2":130.75,"i2":-606},
        {"p":128.27,"i":-460,"p2":128.27,"i2":-511},{"p":128.27,"i":-511,"p2":127.8,"i2":-557},{"p":127.8,"i":-557,"p2":127.8,"i2":-606},
        {"p":113.3,"i":-460,"p2":113.3,"i2":-606},
        {"p":54.2,"i":-460,"p2":54.2,"i2":-606}
      ]},
      "mark": {"type": "rule", "color": "#000080", "strokeWidth": 2},
      "encoding": {"x2": {"field": "p2"}, "y2": {"field": "i2"}}
    },
    {
      "data": {"values": [
        {"p":157.45,"i":-794,"t":"1.00"},{"p":130.75,"i":-794,"t":"1.50"},{"p":127.8,"i":-794,"t":"0.50"},{"p":113.3,"i":-797,"t":"2.73"},{"p":54.2,"i":-794,"t":"1.38"}
      ]},
      "mark": {"type": "text", "color": "#000080", "font": "Liberation Sans", "fontWeight": "bold", "fontSize": 30, "angle": 270, "align": "center", "baseline": "middle"},
      "encoding": {"text": {"field": "t"}}
    },
    {
      "data": {"values": [
        {"p":161.4,"i":4421,"p2":153.5,"i2":4421},{"p":161.4,"i":4472,"p2":161.4,"i2":4372},{"p":153.5,"i":4472,"p2":153.5,"i2":4372},
        {"p":130.7,"i":4421,"p2":129.7,"i2":4421},{"p":130.7,"i":4472,"p2":130.7,"i2":4372},{"p":129.7,"i":4472,"p2":129.7,"i2":4372},
        {"p":128.8,"i":4421,"p2":127.8,"i2":4421},{"p":128.8,"i":4472,"p2":128.8,"i2":4372},{"p":127.8,"i":4472,"p2":127.8,"i2":4372},
        {"p":115.5,"i":4421,"p2":111.0,"i2":4421},{"p":115.5,"i":4472,"p2":115.5,"i2":4372},{"p":111.0,"i":4472,"p2":111.0,"i2":4372},
        {"p":56.2,"i":4421,"p2":52.1,"i2":4421},{"p":56.2,"i":4472,"p2":56.2,"i2":4372},{"p":52.1,"i":4472,"p2":52.1,"i2":4372}
      ]},
      "mark": {"type": "rule", "color": "#800080", "strokeWidth": 2.5},
      "encoding": {"x2": {"field": "p2"}, "y2": {"field": "i2"}}
    },
    {
      "data": {"values": [
        {"p":163.5,"i":5203,"p2":152.1,"i2":4503},
        {"p":134.7,"i":5203,"p2":123.3,"i2":4503},
        {"p":118.5,"i":5203,"p2":107.1,"i2":4503},
        {"p":59.0,"i":5203,"p2":49.2,"i2":4503},
        {"p":133.0,"i":5933,"p2":121.6,"i2":5235}
      ]},
      "mark": {"type": "rect", "filled": false, "fill": null, "stroke": "#800080", "strokeWidth": 2.5},
      "encoding": {"x2": {"field": "p2"}, "y2": {"field": "i2"}}
    },
    {
      "data": {"values": [
        {"p":157.8,"i":4907,"t":"2 (s)"},{"p":157.8,"i":4628,"t":"158.98"},
        {"p":129.0,"i":4907,"t":"4,5 (s)"},{"p":129.0,"i":4628,"t":"130.16"},
        {"p":112.8,"i":4907,"t":"3 (s)"},{"p":112.8,"i":4628,"t":"113.94"},
        {"p":54.1,"i":4907,"t":"1 (s)"},{"p":54.1,"i":4628,"t":"55.27"},
        {"p":127.3,"i":5631,"t":"6 (s)"},{"p":127.3,"i":5363,"t":"128.47"}
      ]},
      "mark": {"type": "text", "color": "#800080", "font": "Liberation Sans", "fontSize": 40, "align": "center", "baseline": "alphabetic"},
      "encoding": {"text": {"field": "t"}}
    },
    {
      "data": {"values": [{"p":219.35,"i":10613,"t":"MG-III-02 -Grupo 2"}]},
      "mark": {"type": "text", "color": "black", "font": "DejaVu Sans", "fontSize": 37, "align": "left", "baseline": "alphabetic"},
      "encoding": {"text": {"field": "t"}}
    },
    {
      "data": {"values": [{"p":218.5,"i":10120,"t":"¹³C NMR (101 MHz, CDCl₃) δ 158.98 (s), 130.16 (s), 128.47 (s), 113.94 (s), 55.27 (s)."}]},
      "mark": {"type": "text", "color": "black", "font": "Liberation Serif", "fontSize": 39, "align": "left", "baseline": "alphabetic"},
      "encoding": {"text": {"field": "t"}}
    },
    {
      "data": {"values": [{"p":44.2,"i":2672,"t":"THF"}]},
      "mark": {"type": "text", "color": "black", "font": "Liberation Sans", "fontSize": 50, "align": "center", "baseline": "alphabetic"},
      "encoding": {"text": {"field": "t"}}
    },
    {
      "data": {"values": [
        {"p":46.53,"i":2557,"p2":61.38,"i2":602},
        {"p":43.35,"i":2557,"p2":26.81,"i2":1176}
      ]},
      "mark": {"type": "rule", "color": "black", "strokeWidth": 4},
      "encoding": {"x2": {"field": "p2"}, "y2": {"field": "i2"}}
    },
    {
      "data": {"values": [{"p":61.38,"i":602}]},
      "mark": {"type": "point", "shape": "M0,0L0.36,1L-0.36,1Z", "size": 3844, "angle": 208, "filled": true, "color": "black", "opacity": 1, "strokeWidth": 0}
    },
    {
      "data": {"values": [{"p":26.81,"i":1176}]},
      "mark": {"type": "point", "shape": "M0,0L0.36,1L-0.36,1Z", "size": 3844, "angle": 139, "filled": true, "color": "black", "opacity": 1, "strokeWidth": 0}
    }
  ]
}
